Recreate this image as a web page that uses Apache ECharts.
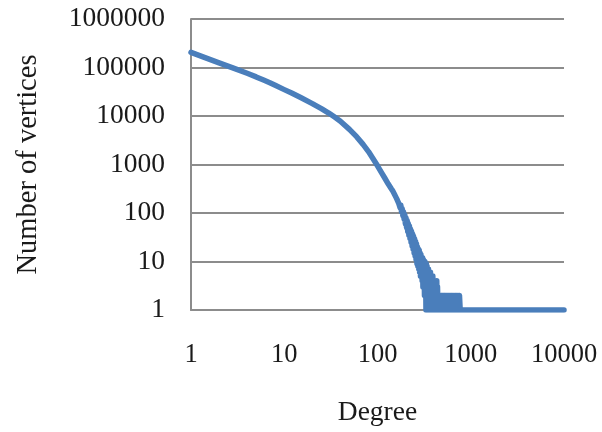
<!DOCTYPE html>
<html>
<head>
<meta charset="utf-8">
<script src="https://cdn.jsdelivr.net/npm/echarts@6/dist/echarts.min.js"></script>
<style>
html,body{margin:0;padding:0;background:#fff;}
#chart{width:602px;height:432px;}
</style>
</head>
<body>
<div id="chart"></div>
<script>
// Degree values (x) and number of vertices with that degree (y)
var degrees = [
  1,2,3,4,5,6,7,8,10,12,15,20,25,30,35,40,50,60,70,80,90,100,110,120,130,140,
  142,145,148,151,154,157,160,163,166,169,172,175,178,181,184,187,190,193,196,199,
  202,205,208,211,214,217,220,223,226,229,232,235,238,241,244,247,250,253,256,259,
  262,265,268,271,274,277,280,283,286,289,292,295,298,301,304,307,310,313,316,319,
  322,325,328,331,334,337,340,343,346,349,352,355,358,361,364,367,370,373,376,380,
  384,388,392,396,400,404,408,412,416,420,424,428,432,436,440,445,450,455,460,465,
  470,476,482,488,494,500,507,514,521,528,535,543,551,559,567,575,584,593,602,611,
  621,631,641,651,662,673,684,695,707,719,731,744,757,770,800,1000,2000,5000,10000
];
var vertices = [
  205000,125000,94000,76000,64000,55000,48500,43000,35000,29700,24000,18000,14200,11500,9400,7800,5300,3700,2600,1850,1300,940,690,520,400,320,
  310,290,285,250,255,215,222,185,196,158,170,128,145,105,122,88,106,74,92,60,
  80,50,70,42,61,35,54,30,47,25,42,21,37,18,33,15,29,13,26,11,
  23,9,20,8,18,7,17,6,15,5,14,5,12,4,12,3,11,3,10,2,
  10,2,9,1,9,1,8,1,7,2,7,1,6,1,6,2,6,1,5,1,
  5,1,5,2,4,1,4,1,4,1,3,1,4,1,3,1,2,1,2,1,
  2,1,2,1,2,1,2,1,2,1,2,1,2,1,2,1,2,1,2,1,
  2,1,2,1,2,1,2,1,2,1,2,1,2,1,1,1,1,1,1
];
var xTickLabels = ['1','10','100','1000','10000'];
var yTickLabels = ['1','10','100','1000','10000','100000','1000000'];
var xTitle = 'Degree';
var yTitle = 'Number of vertices';

var data = degrees.map(function(d, i){ return [d, vertices[i]]; });
var font = '"Liberation Serif", "DejaVu Serif", serif';
function labelFor(list){
  return function(v){
    var idx = Math.round(Math.log10(v));
    return list[idx] !== undefined ? list[idx] : '';
  };
}

var chart = echarts.init(document.getElementById('chart'), null, {renderer:'canvas'});
chart.setOption({
  animation:false,
  backgroundColor:'#ffffff',
  grid:{left:191, right:38, top:19, bottom:119, containLabel:false},
  xAxis:{
    type:'log', logBase:10, min:1, max:10000,
    name:xTitle, nameLocation:'middle', nameGap:89,
    nameTextStyle:{fontFamily:font, fontSize:27.5, color:'#1a1a1a'},
    axisLine:{show:true, lineStyle:{color:'#8c8c8c', width:2}},
    axisTick:{show:false},
    splitLine:{show:false},
    minorTick:{show:false},
    axisLabel:{fontFamily:font, fontSize:26.5, color:'#1a1a1a', margin:32, formatter:labelFor(xTickLabels), showMinLabel:true, showMaxLabel:true}
  },
  yAxis:{
    type:'log', logBase:10, min:1, max:1000000,
    name:yTitle, nameLocation:'middle', nameGap:148,
    nameTextStyle:{fontFamily:font, fontSize:28.5, color:'#1a1a1a'},
    axisLine:{show:true, lineStyle:{color:'#8c8c8c', width:2}},
    axisTick:{show:false},
    splitLine:{show:true, lineStyle:{color:'#8c8c8c', width:2}},
    axisLabel:{fontFamily:font, fontSize:27.5, color:'#1a1a1a', margin:26, formatter:labelFor(yTickLabels)}
  },
  series:[{
    type:'line',
    data:data,
    showSymbol:false,
    symbol:'none',
    lineStyle:{color:'#4a7ebb', width:5.5, join:'round', cap:'round'},
    itemStyle:{color:'#4a7ebb'}
  }]
});
</script>
</body>
</html>
